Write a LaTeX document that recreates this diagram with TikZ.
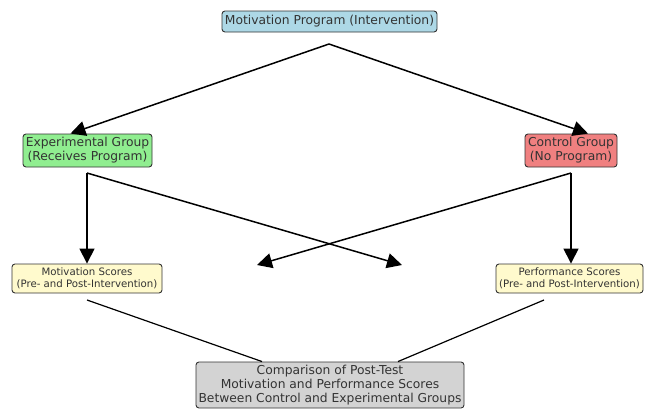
\documentclass[tikz,border=0pt]{standalone}
\usepackage{fontspec}
\setmainfont{DejaVu Sans}
\usetikzlibrary{arrows.meta}
\definecolor{cblue}{HTML}{ADD8E6}
\definecolor{cgreen}{HTML}{90EE90}
\definecolor{ccoral}{HTML}{F08080}
\definecolor{cyellow}{HTML}{FFFACD}
\definecolor{cgray}{HTML}{D3D3D3}
\definecolor{ctext}{HTML}{333333}
\tikzset{
  box/.style={draw=ctext, line width=0.9pt, rounded corners=3pt, align=center,
    inner sep=0pt, text=ctext, font=\fontsize{12.3}{14}\selectfont},
  smallbox/.style={box, font=\fontsize{10.2}{12.5}\selectfont},
  arr/.style={line width=1.5pt, -{Triangle[width=15pt,length=15pt]}},
  ln/.style={line width=1.2pt}
}
\begin{document}
\begin{tikzpicture}[x=1pt,y=-1pt]
\useasboundingbox (0,0) rectangle (646,410);
\node[box, fill=cblue, minimum width=215pt, minimum height=21pt] (prog) at (329.5,21.5) {Motivation Program (Intervention)};
\node[box, fill=cgreen, minimum width=129pt, minimum height=33pt] (exp) at (87.5,150.5) {Experimental Group\\(Receives Program)};
\node[box, fill=ccoral, minimum width=92pt, minimum height=33pt] (ctrl) at (571,150.5) {Control Group\\(No Program)};
\node[smallbox, fill=cyellow, minimum width=150pt, minimum height=29pt] (mot) at (87,278.5) {Motivation Scores\\(Pre- and Post-Intervention)};
\node[smallbox, fill=cyellow, minimum width=147pt, minimum height=29pt] (perf) at (569.5,278.5) {Performance Scores\\(Pre- and Post-Intervention)};
\node[box, fill=cgray, minimum width=268pt, minimum height=46pt] (comp) at (330,385) {Comparison of Post-Test\\Motivation and Performance Scores\\Between Control and Experimental Groups};

\coordinate (apex) at (329,44);
\coordinate (expout) at (87,173);
\coordinate (ctrlout) at (571,173);
\coordinate (xr) at (402,265);
\coordinate (xl) at (257,265);
\coordinate (motout) at (87,300);
\coordinate (perfout) at (544,300);

\draw[arr] (apex) -- ([xshift=-17pt]exp.north);
\draw[arr] (apex) -- ([xshift=17pt]ctrl.north);
\draw[arr] (expout) -- (mot.north);
\draw[arr] (expout) -- (xr);
\draw[arr] (ctrlout) -- (xl);
\draw[arr] (ctrlout) -- ([xshift=1.5pt]perf.north);
\draw[ln] (motout) -- ([xshift=-68pt]comp.north);
\draw[ln] (perfout) -- ([xshift=68pt]comp.north);
\end{tikzpicture}
\end{document}
